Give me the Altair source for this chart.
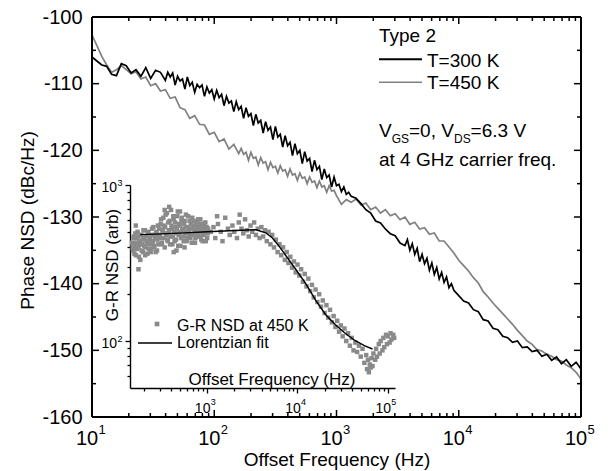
import altair as alt
import pandas as pd

FONT = "Liberation Sans"
W, H = 489, 400

# ---------------- main curves (log10 of offset frequency) ----------------
# T = 300 K (black)
lf_300K = [1.00, 1.04, 1.08, 1.12, 1.16, 1.20, 1.24, 1.28, 1.32, 1.36, 1.40, 1.44, 1.48, 1.52, 1.56,
           1.60, 1.62, 1.64, 1.66, 1.68, 1.70, 1.72, 1.74, 1.76, 1.78,
           1.80, 1.82, 1.84, 1.86, 1.88, 1.90, 1.92, 1.94, 1.96, 1.98,
           2.00, 2.02, 2.04, 2.06, 2.08, 2.10, 2.12, 2.14, 2.16, 2.18,
           2.20, 2.22, 2.24, 2.26, 2.28, 2.30, 2.32, 2.34, 2.36, 2.38,
           2.40, 2.42, 2.44, 2.46, 2.48, 2.50, 2.52, 2.54, 2.56, 2.58,
           2.60, 2.62, 2.64, 2.66, 2.68, 2.70, 2.72, 2.74, 2.76, 2.78,
           2.80, 2.82, 2.84, 2.86, 2.88, 2.90, 2.92, 2.94, 2.96, 2.98,
           3.00, 3.02, 3.04, 3.06, 3.08, 3.10,
           3.12, 3.16, 3.20, 3.24, 3.28, 3.32, 3.36, 3.40, 3.44, 3.48, 3.52,
           3.56, 3.58, 3.60, 3.62, 3.64, 3.66, 3.68, 3.70, 3.72, 3.74,
           3.76, 3.78, 3.80, 3.82, 3.84, 3.86, 3.88, 3.90, 3.92, 3.94, 3.96,
           4.00, 4.04, 4.08, 4.12, 4.16, 4.20, 4.24, 4.28, 4.32, 4.36, 4.40, 4.44, 4.48,
           4.52, 4.56, 4.60, 4.64, 4.68, 4.72, 4.76, 4.80, 4.84, 4.88, 4.92, 4.96, 5.00]
phase_300K = [-106.0, -106.6, -107.2, -107.4, -108.6, -108.8, -107.0, -107.3, -108.4, -107.9,
              -108.9, -107.6, -109.2, -108.0, -108.3,
              -109.5, -108.3, -109.0, -108.4, -110.2, -108.9, -109.6, -109.3, -110.8, -109.0,
              -110.3, -109.8, -111.3, -110.1, -110.6, -110.2, -111.9, -110.5, -111.4, -110.9,
              -112.3, -111.0, -112.1, -111.6, -113.3, -111.9, -112.9, -112.6, -114.2, -112.7,
              -113.9, -113.4, -115.2, -113.6, -114.9, -114.5, -116.3, -114.6, -115.9, -115.5,
              -117.4, -115.7, -117.0, -116.5, -118.4, -116.4, -118.0, -117.6, -119.5, -117.8,
              -119.3, -118.8, -120.8, -119.0, -120.5, -120.0, -122.0, -120.2, -121.6, -121.2,
              -123.2, -121.5, -122.9, -122.4, -124.4, -122.8, -124.1, -123.7, -125.5, -124.0,
              -125.3, -125.1, -126.2, -125.5, -126.6, -126.3,
              -126.9, -127.2, -128.0, -128.9, -129.4, -130.6, -130.9, -131.8, -132.5, -132.8, -133.9,
              -134.3, -133.4, -135.0, -134.0, -135.6, -134.7, -136.7, -135.6, -137.0, -136.2,
              -138.0, -136.9, -138.6, -137.6, -139.3, -138.3, -139.8, -139.0, -140.6, -140.0, -141.0,
              -141.8, -142.6, -142.9, -143.9, -144.2, -145.4, -145.6, -146.7, -146.9, -147.9, -148.1, -148.8, -148.6,
              -149.6, -149.5, -150.2, -150.0, -150.9, -150.6, -151.5, -151.0, -152.0, -151.4, -152.4, -151.8, -152.8]

# T = 450 K (gray)
lf_450K = [1.00, 1.04, 1.08, 1.12, 1.16, 1.20, 1.24, 1.28, 1.32, 1.36,
           1.40, 1.44, 1.48, 1.52, 1.56, 1.60, 1.64, 1.68, 1.72, 1.76,
           1.80, 1.84, 1.88, 1.92, 1.96, 2.00, 2.04, 2.08, 2.12, 2.16,
           2.20, 2.22, 2.24, 2.26, 2.28, 2.30, 2.32, 2.34, 2.36, 2.38,
           2.40, 2.42, 2.44, 2.46, 2.48, 2.50, 2.52, 2.54, 2.56, 2.58,
           2.60, 2.62, 2.64, 2.66, 2.68, 2.70, 2.72, 2.74, 2.76, 2.78,
           2.80, 2.82, 2.84, 2.86, 2.88, 2.90, 2.92, 2.94, 2.96, 2.98, 3.00,
           3.04, 3.08, 3.12, 3.16, 3.20, 3.24, 3.28, 3.32, 3.36,
           3.40, 3.44, 3.48, 3.52, 3.56, 3.60, 3.64, 3.68, 3.72, 3.76,
           3.80, 3.84, 3.88, 3.92, 3.96, 4.00, 4.04, 4.08, 4.12, 4.16,
           4.20, 4.24, 4.28, 4.32, 4.36, 4.40, 4.44, 4.48, 4.52, 4.56,
           4.60, 4.64, 4.68, 4.72, 4.76, 4.80, 4.84, 4.88, 4.92, 4.96, 5.00]
phase_450K = [-102.7, -104.3, -105.9, -107.2, -108.3, -107.9, -107.3, -107.9, -108.5, -108.2,
              -109.3, -109.0, -110.3, -110.0, -111.1, -110.9, -112.2, -112.0, -113.6, -113.9,
              -115.2, -114.8, -116.1, -116.2, -117.6, -117.3, -118.7, -118.3, -119.8, -119.1,
              -120.5, -119.7, -120.6, -120.3, -121.5, -120.3, -121.2, -121.0, -122.2, -121.1,
              -121.9, -121.7, -122.9, -121.8, -122.6, -122.4, -123.4, -122.3, -123.1, -122.9,
              -123.9, -122.8, -123.7, -123.5, -124.5, -123.4, -124.2, -124.0, -125.0, -124.0,
              -124.8, -124.6, -125.6, -124.6, -125.5, -125.3, -126.3, -125.3, -126.1, -126.0, -126.8,
              -128.1, -127.4, -127.8, -127.3, -128.2, -127.9, -128.9, -128.5, -129.4,
              -128.9, -129.8, -129.5, -130.4, -130.0, -131.1, -130.8, -131.8, -131.6, -132.6,
              -132.4, -133.6, -133.6, -134.5, -135.4, -136.5, -137.3, -138.1, -139.1, -139.9,
              -141.2, -142.0, -142.9, -143.7, -144.5, -145.3, -146.1, -147.0, -147.8, -148.6,
              -149.1, -149.9, -150.1, -150.6, -150.9, -151.4, -151.6, -152.2, -152.6, -153.3, -154.3]

series_names = ["T=450 K", "T=300 K"]
series_colors = ["#808080", "#000000"]

# ---------------- inset: G-R NSD scatter (log10 f, log10 value) ----------------
gr_logf_a = [2.17, 2.18, 2.19, 2.20, 2.21, 2.22, 2.23, 2.24, 2.25, 2.26, 2.27, 2.28, 2.29, 2.30, 2.31,
             2.32, 2.33, 2.34, 2.35, 2.36, 2.37, 2.38, 2.39, 2.40, 2.41, 2.42, 2.43, 2.44, 2.45, 2.46,
             2.24, 2.21]
gr_logv_a = [2.63, 2.58, 2.67, 2.61, 2.55, 2.66, 2.70, 2.60, 2.64, 2.52, 2.68, 2.62, 2.57, 2.66, 2.71,
             2.60, 2.64, 2.56, 2.69, 2.62, 2.66, 2.59, 2.72, 2.64, 2.61, 2.68, 2.57, 2.70, 2.65, 2.62,
             2.46, 2.74]
gr_logf_a2 = [2.175, 2.185, 2.195, 2.205, 2.215, 2.225, 2.235, 2.245, 2.255, 2.265, 2.275, 2.285, 2.295, 2.305, 2.315,
              2.325, 2.335, 2.345, 2.355, 2.365, 2.375, 2.385, 2.395, 2.405, 2.415, 2.425, 2.435, 2.445, 2.455, 2.465]
gr_logv_a2 = [2.60, 2.66, 2.56, 2.69, 2.63, 2.59, 2.67, 2.54, 2.62, 2.68, 2.58, 2.65, 2.71, 2.61, 2.55,
              2.67, 2.63, 2.70, 2.59, 2.64, 2.57, 2.68, 2.62, 2.73, 2.60, 2.66, 2.69, 2.58, 2.74, 2.67]
gr_logf_b = [2.47, 2.48, 2.49, 2.50, 2.51, 2.52, 2.53, 2.54, 2.55, 2.56,
             2.57, 2.58, 2.59, 2.60, 2.61, 2.62, 2.63, 2.64, 2.65, 2.66,
             2.67, 2.68, 2.69, 2.70, 2.71, 2.72, 2.73, 2.74, 2.75, 2.76,
             2.77, 2.78, 2.79, 2.80, 2.81, 2.82, 2.83, 2.84, 2.85, 2.86,
             2.87, 2.88, 2.89, 2.90, 2.91, 2.92, 2.93, 2.94, 2.95, 2.96,
             2.97, 2.98, 2.99, 3.00, 3.01,
             2.58, 2.63, 2.70, 2.75, 2.53, 2.66]
gr_logv_b = [2.72, 2.66, 2.78, 2.63, 2.70, 2.74, 2.60, 2.81, 2.68, 2.65,
             2.76, 2.70, 2.62, 2.84, 2.72, 2.67, 2.78, 2.64, 2.73, 2.69,
             2.80, 2.61, 2.75, 2.70, 2.66, 2.79, 2.72, 2.64, 2.77, 2.69,
             2.73, 2.66, 2.80, 2.71, 2.68, 2.75, 2.63, 2.72, 2.77, 2.70,
             2.66, 2.74, 2.69, 2.78, 2.72, 2.67, 2.75, 2.70, 2.64, 2.73,
             2.69, 2.76, 2.71, 2.66, 2.72,
             2.86, 2.57, 2.83, 2.60, 2.84, 2.58]
gr_logf_b2 = [2.475, 2.485, 2.495, 2.505, 2.515, 2.525, 2.535, 2.545, 2.555, 2.565,
              2.575, 2.585, 2.595, 2.605, 2.615, 2.625, 2.635, 2.645, 2.655, 2.665,
              2.675, 2.685, 2.695, 2.705, 2.715, 2.725, 2.735, 2.745, 2.755, 2.765,
              2.775, 2.785, 2.795, 2.805, 2.815, 2.825, 2.835, 2.845, 2.855, 2.865,
              2.875, 2.885, 2.895, 2.905, 2.915, 2.925, 2.935, 2.945, 2.955, 2.965,
              2.975, 2.985, 2.995, 3.005]
gr_logv_b2 = [2.68, 2.75, 2.62, 2.71, 2.79, 2.66, 2.73, 2.69, 2.82, 2.64,
              2.71, 2.77, 2.67, 2.74, 2.62, 2.80, 2.70, 2.76, 2.65, 2.72,
              2.83, 2.68, 2.74, 2.61, 2.77, 2.71, 2.67, 2.75, 2.70, 2.81,
              2.64, 2.73, 2.69, 2.77, 2.66, 2.72, 2.79, 2.68, 2.74, 2.63,
              2.71, 2.76, 2.67, 2.73, 2.70, 2.78, 2.65, 2.72, 2.68, 2.75,
              2.70, 2.64, 2.73, 2.69]
gr_logf_c = [3.04, 3.07, 3.09, 3.12, 3.15, 3.17, 3.20, 3.23, 3.25, 3.28, 3.30, 3.33, 3.35,
             3.38, 3.40, 3.42, 3.44, 3.46, 3.48, 3.50, 3.52, 3.54, 3.56, 3.58, 3.11, 3.36]
gr_logv_c = [2.70, 2.73, 2.66, 2.75, 2.70, 2.64, 2.79, 2.72, 2.68, 2.74, 2.70, 2.66, 2.76,
             2.72, 2.69, 2.78, 2.71, 2.67, 2.74, 2.70, 2.76, 2.68, 2.72, 2.66, 2.80, 2.81]
gr_logf_d = [3.60, 3.62, 3.64, 3.66, 3.68, 3.70, 3.72, 3.74, 3.76, 3.78,
             3.80, 3.82, 3.84, 3.86, 3.88, 3.90, 3.92, 3.94, 3.96, 3.98]
gr_logv_d = [2.73, 2.67, 2.71, 2.64, 2.70, 2.62, 2.68, 2.60, 2.65, 2.57,
             2.62, 2.55, 2.60, 2.52, 2.57, 2.50, 2.54, 2.47, 2.51, 2.44]
gr_logf_e = [4.00, 4.02, 4.04, 4.06, 4.08, 4.10, 4.12, 4.14, 4.16, 4.18, 4.20, 4.22, 4.24,
             4.26, 4.28, 4.30, 4.32, 4.34, 4.36, 4.38, 4.40, 4.42, 4.44, 4.46, 4.48]
gr_logv_e = [2.49, 2.42, 2.46, 2.38, 2.43, 2.35, 2.40, 2.32, 2.36, 2.28, 2.33, 2.25, 2.30,
             2.22, 2.26, 2.18, 2.23, 2.15, 2.20, 2.12, 2.16, 2.09, 2.13, 2.06, 2.10]
gr_logf_f = [4.50, 4.52, 4.54, 4.56, 4.58, 4.60, 4.62, 4.64, 4.66, 4.68, 4.70, 4.72,
             4.74, 4.76, 4.77, 4.78, 4.79, 4.80, 4.81, 4.82, 4.83, 4.84,
             4.86, 4.87, 4.88, 4.90, 4.91, 4.92, 4.94, 4.95, 4.96, 4.98, 4.99, 5.00,
             5.02, 5.03, 5.04, 5.06, 5.07]
gr_logv_f = [2.03, 2.08, 2.00, 2.05, 1.97, 2.02, 1.94, 1.99, 1.93, 1.97, 1.90, 1.95,
             1.86, 1.91, 1.82, 1.88, 1.80, 1.85, 1.83, 1.89, 1.84, 1.92,
             1.88, 1.95, 1.90, 1.98, 1.92, 2.00, 1.94, 2.02, 1.96, 2.04, 1.98, 2.03,
             1.99, 2.05, 2.01, 2.04, 2.02]

# Lorentzian fit curve (log10 f, log10 value)
fit_logf = [2.26, 2.50, 2.75, 3.00, 3.25, 3.45, 3.54, 3.65, 3.72, 3.80,
            3.87, 3.98, 4.09, 4.20, 4.31, 4.42, 4.53, 4.64, 4.74, 4.83]
fit_logv = [2.682, 2.687, 2.693, 2.700, 2.707, 2.712, 2.713, 2.693, 2.662, 2.605,
            2.548, 2.460, 2.370, 2.262, 2.170, 2.105, 2.048, 2.002, 1.970, 1.949]

# ---------------- axis ticks ----------------
main_xticks = [10, 100, 1000, 10000, 100000]
main_xexp = ["1", "2", "3", "4", "5"]
main_xminor = [20, 30, 40, 50, 60, 70, 80, 90,
               200, 300, 400, 500, 600, 700, 800, 900,
               2000, 3000, 4000, 5000, 6000, 7000, 8000, 9000,
               20000, 30000, 40000, 50000, 60000, 70000, 80000, 90000]
main_yticks = [-160, -150, -140, -130, -120, -110, -100]
main_yminor = [-155, -145, -135, -125, -115, -105]
inset_xticks = [1000, 10000, 100000]
inset_xexp = ["3", "4", "5"]
inset_xminor = [200, 300, 400, 500, 600, 700, 800, 900,
                2000, 3000, 4000, 5000, 6000, 7000, 8000, 9000,
                20000, 30000, 40000, 50000, 60000, 70000, 80000, 90000]
inset_yticks = [100, 1000]
inset_yexp = ["2", "3"]
inset_yminor = [60, 70, 80, 90, 200, 300, 400, 500, 600, 700, 800, 900]

# ---------------- tables ----------------
main_df = pd.DataFrame({
    "f": [10 ** x for x in lf_450K] + [10 ** x for x in lf_300K],
    "v": phase_450K + phase_300K,
    "series": [series_names[0]] * len(lf_450K) + [series_names[1]] * len(lf_300K),
})
gr_lf = gr_logf_a + gr_logf_a2 + gr_logf_b + gr_logf_b2 + gr_logf_c + gr_logf_d + gr_logf_e + gr_logf_f
gr_lv = gr_logv_a + gr_logv_a2 + gr_logv_b + gr_logv_b2 + gr_logv_c + gr_logv_d + gr_logv_e + gr_logv_f
gr_df = pd.DataFrame({"f": [10 ** x for x in gr_lf], "v": [10 ** y for y in gr_lv]})
fit_df = pd.DataFrame({"f": [10 ** x for x in fit_logf], "v": [10 ** y for y in fit_logv]})
inset_bounds = pd.DataFrame({"f": [140, 120000], "v": [50, 1000]})
one = pd.DataFrame({"a": [0]})

XM = alt.Scale(type="log", domain=[10, 100000], nice=False)
YM = alt.Scale(domain=[-160, -100], nice=False, zero=False)
XI = alt.Scale(type="log", domain=[140, 120000], range=[38, 303], nice=False)
YI = alt.Scale(type="log", domain=[50, 1000], range=[371, 168], nice=False)


def tick_axis(orient, offset, values, size, domain):
    return alt.Axis(orient=orient, offset=offset, values=values, labels=False, ticks=True,
                    tickSize=size, tickWidth=1.3, tickColor="black", domain=domain,
                    domainColor="black", domainWidth=1.4, grid=False, title=None)


def label(text, x, y, size, align="left", angle=0, baseline="alphabetic"):
    return alt.Chart(one).mark_text(text=text, align=align, baseline=baseline, fontSize=size,
                                    font=FONT, color="black", angle=angle).encode(
        x=alt.value(x), y=alt.value(y))


def xticks_rule(values, y0, y1):
    return alt.Chart(pd.DataFrame({"f": values})).mark_rule(color="black", strokeWidth=1.5).encode(
        x=alt.X("f:Q", scale=XM, axis=None), y=alt.value(y0), y2=alt.value(y1))


def yticks_rule(values, x0, x1):
    return alt.Chart(pd.DataFrame({"v": values})).mark_rule(color="black", strokeWidth=1.5).encode(
        y=alt.Y("v:Q", scale=YM, axis=None), x=alt.value(x0), x2=alt.value(x1))


def frame_rule(x0, x1, y0, y1):
    return alt.Chart(one).mark_rule(color="black", strokeWidth=2).encode(
        x=alt.value(x0), x2=alt.value(x1), y=alt.value(y0), y2=alt.value(y1))


layers = []

# inset scatter with its axes
layers.append(alt.Chart(gr_df).mark_square(size=20, color="#8a8a8a", opacity=1).encode(
    x=alt.X("f:Q", scale=XI, axis=tick_axis("bottom", -29, inset_xticks, 5, True)),
    y=alt.Y("v:Q", scale=YI, axis=tick_axis("left", -38, inset_yticks, 5, True)),
))
layers.append(alt.Chart(inset_bounds).mark_point(opacity=0).encode(
    x=alt.X("f:Q", scale=XI, axis=tick_axis("bottom", -29, inset_xminor, 3, False)),
    y=alt.Y("v:Q", scale=YI, axis=tick_axis("left", -38, inset_yminor, 3, False)),
))
layers.append(alt.Chart(fit_df).mark_line(color="black", strokeWidth=1.4).encode(
    x=alt.X("f:Q", scale=XI, axis=None),
    y=alt.Y("v:Q", scale=YI, axis=None),
))

# inset tick labels
ixt = pd.DataFrame({"f": inset_xticks, "e": inset_xexp})
layers.append(alt.Chart(ixt).mark_text(text="10", align="center", baseline="alphabetic", fontSize=14,
                                       font=FONT, color="black", dx=-4.5).encode(
    x=alt.X("f:Q", scale=XI, axis=None), y=alt.value(396)))
layers.append(alt.Chart(ixt).mark_text(align="left", baseline="alphabetic", fontSize=9,
                                       font=FONT, color="black", dx=3.5).encode(
    x=alt.X("f:Q", scale=XI, axis=None), y=alt.value(388), text="e:N"))
iyt = pd.DataFrame({"v": inset_yticks, "e": inset_yexp})
layers.append(alt.Chart(iyt).mark_text(text="10", align="right", baseline="alphabetic", fontSize=14,
                                       font=FONT, color="black", dy=7).encode(
    y=alt.Y("v:Q", scale=YI, axis=None), x=alt.value(25)))
layers.append(alt.Chart(iyt).mark_text(align="left", baseline="alphabetic", fontSize=9,
                                       font=FONT, color="black", dy=1).encode(
    y=alt.Y("v:Q", scale=YI, axis=None), x=alt.value(25.5), text="e:N"))

# inset titles and legend
layers.append(label("Offset Frequency (Hz)", 180, 368, 17, align="center"))
layers.append(label("G-R NSD (arb)", 26, 248, 17, align="center", angle=270))
layers.append(alt.Chart(one).mark_square(size=22, color="#8a8a8a", opacity=1).encode(
    x=alt.value(65), y=alt.value(307)))
layers.append(label("G-R NSD at 450 K", 85, 314, 16))
layers.append(alt.Chart(one).mark_rule(color="black", strokeWidth=1.4).encode(
    x=alt.value(46), x2=alt.value(80), y=alt.value(326)))
layers.append(label("Lorentzian fit", 85, 331, 16))

# main curves, with y labels and axis titles
layers.append(alt.Chart(main_df).mark_line(strokeWidth=1.7).encode(
    x=alt.X("f:Q", scale=XM, axis=alt.Axis(orient="bottom", labels=False, ticks=False, tickSize=0,
                                           domain=False, grid=False,
                                           title="Offset Frequency (Hz)", titleFont=FONT, titleFontSize=19,
                                           titleFontWeight="normal", titleColor="black",
                                           titleX=244.5, titleY=48, titleAlign="center",
                                           titleBaseline="alphabetic")),
    y=alt.Y("v:Q", scale=YM, axis=alt.Axis(orient="left", values=main_yticks, labelExpr="datum.value + ''",
                                           ticks=False, tickSize=0, domain=False, grid=False,
                                           labelFont=FONT, labelFontSize=20, labelColor="black",
                                           labelPadding=10,
                                           title="Phase NSD (dBc/Hz)", titleFont=FONT, titleFontSize=19,
                                           titleFontWeight="normal", titleColor="black",
                                           titleAngle=270, titleX=-59, titleY=203, titleAlign="center",
                                           titleBaseline="alphabetic")),
    color=alt.Color("series:N", scale=alt.Scale(domain=series_names, range=series_colors), legend=None),
))

# main x tick labels 10^n
mxt = pd.DataFrame({"f": main_xticks, "e": main_xexp})
layers.append(alt.Chart(mxt).mark_text(text="10", align="center", baseline="alphabetic", fontSize=20,
                                       font=FONT, color="black", dx=-5).encode(
    x=alt.X("f:Q", scale=XM, axis=None), y=alt.value(428)))
layers.append(alt.Chart(mxt).mark_text(align="left", baseline="alphabetic", fontSize=13,
                                       font=FONT, color="black", dx=6.5).encode(
    x=alt.X("f:Q", scale=XM, axis=None), y=alt.value(417), text="e:N"))

# frame and inward ticks on all four sides
layers.append(frame_rule(0, W, 0, 0))
layers.append(frame_rule(0, W, H, H))
layers.append(frame_rule(0, 0, 0, H))
layers.append(frame_rule(W, W, 0, H))
layers.append(xticks_rule(main_xticks, H, H - 7))
layers.append(xticks_rule(main_xminor, H, H - 4))
layers.append(xticks_rule(main_xticks, 0, 7))
layers.append(xticks_rule(main_xminor, 0, 4))
layers.append(yticks_rule(main_yticks, 0, 7))
layers.append(yticks_rule(main_yminor, 0, 4))
layers.append(yticks_rule(main_yticks, W, W - 7))
layers.append(yticks_rule(main_yminor, W, W - 4))

# main legend and annotation
layers.append(label("Type 2", 287, 24.7, 19))
layers.append(alt.Chart(one).mark_rule(color="black", strokeWidth=2).encode(
    x=alt.value(287), x2=alt.value(330), y=alt.value(42.3)))
layers.append(label("T=300 K", 335, 49.7, 19))
layers.append(alt.Chart(one).mark_rule(color="#808080", strokeWidth=1.6).encode(
    x=alt.value(287), x2=alt.value(330), y=alt.value(65.3)))
layers.append(label("T=450 K", 335, 72.3, 19))
layers.append(label("V", 287, 119.7, 19))
layers.append(label("GS", 299.7, 125.7, 12))
layers.append(label("=0, V", 317, 119.7, 19))
layers.append(label("DS", 362, 125.7, 12))
layers.append(label("=6.3 V", 378.6, 119.7, 19))
layers.append(label("at 4 GHz carrier freq.", 287, 148.5, 19))

chart = alt.layer(*layers).resolve_scale(x="independent", y="independent").properties(
    width=W, height=H,
    padding={"left": 92, "top": 17, "right": 32, "bottom": 54},
    autosize=alt.AutoSizeParams(type="none"),
    background="white",
).configure_view(stroke=None).configure(font=FONT)

chart.save("out.html", embed_options={"renderer": "svg", "actions": False})
